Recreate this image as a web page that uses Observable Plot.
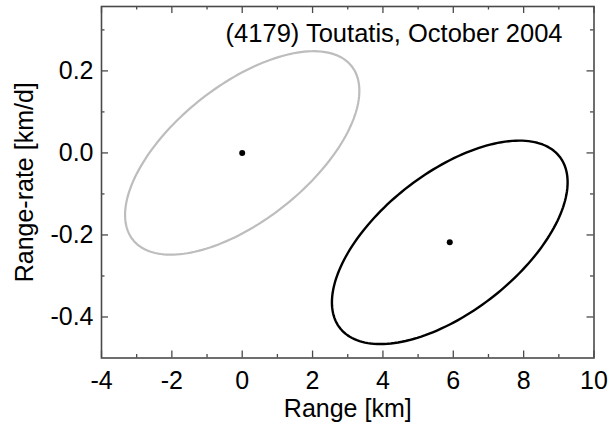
<!DOCTYPE html>
<html><head><meta charset="utf-8">
<script src="https://cdn.jsdelivr.net/npm/d3@7"></script>
<script src="https://cdn.jsdelivr.net/npm/@observablehq/plot@0.6"></script>
<style>html,body{margin:0;padding:0;background:#fff} svg{display:block}</style>
</head><body><div id="chart"></div>
<script>
// Data
const seriesNames = ["Nominal", "Offset"];
const centerRange = [0, 5.9];        // km
const centerRate = [0, -0.218];      // km/d
const halfRange = [3.33, 3.35];      // km, horizontal half-extent of ellipse
const halfRate = [0.248, 0.248];     // km/d, vertical half-extent of ellipse
const tilt = [0.61, 0.59];           // rate offset at range extreme / halfRate
const xMajor = [-4, -2, 0, 2, 4, 6, 8, 10];
const xMinor = [-3, -1, 1, 3, 5, 7, 9];
const yMajor = [-0.4, -0.2, 0.0, 0.2];
const yMinor = [-0.3, -0.1, 0.1, 0.3];
const xTickLabels = ["-4", "-2", "0", "2", "4", "6", "8", "10"];
const yTickLabels = ["-0.4", "-0.2", "0.0", "0.2"];
const title = "(4179) Toutatis, October 2004";
const xLabel = "Range [km]";
const yLabel = "Range-rate [km/d]";

// layout / style
const W = 610, H = 424;
const mL = 101, mR = 16.5, mT = 6, mB = 66.5;
const innerW = W - mL - mR, innerH = H - mT - mB;
const frameColor = "#4a4a4a";
const seriesColors = ["#bdbdbd", "#000000"];
const seriesWidths = [2.2, 2.4];
const major = 7, minor = 3.5;
const font = "'Liberation Sans', Arial, Helvetica, sans-serif";
const fs = 25;

// ellipse outlines built from the read parameters
const ellipses = seriesNames.map((name, i) => {
  const phi = Math.asin(tilt[i]);
  return d3.range(0, 360, 2).map(deg => {
    const t = deg * Math.PI / 180;
    return {series: name,
            range: centerRange[i] + halfRange[i] * Math.cos(t),
            rate: centerRate[i] + halfRate[i] * Math.sin(t + phi)};
  });
});
const centers = seriesNames.map((name, i) => ({series: name, range: centerRange[i], rate: centerRate[i]}));

const xFmt = d => xTickLabels[xMajor.indexOf(d)];
const yFmt = d => yTickLabels[yMajor.indexOf(d)];

const chart = Plot.plot({
  width: W, height: H,
  marginLeft: mL, marginRight: mR, marginTop: mT, marginBottom: mB,
  style: {fontFamily: font, fontSize: fs + "px", color: "#000", background: "#fff"},
  x: {domain: [-4, 10]},
  y: {domain: [-0.5, 0.357]},
  marks: [
    ...ellipses.map((pts, i) => Plot.line(pts, {x: "range", y: "rate", curve: "linear-closed",
        stroke: seriesColors[i], strokeWidth: seriesWidths[i]})),
    Plot.dot(centers, {x: "range", y: "rate", r: 3, fill: "#000", stroke: null}),
    // inward ticks on all four sides
    Plot.tickX(xMajor, {x: d => d, stroke: frameColor, strokeWidth: 1.3, insetTop: innerH - major}),
    Plot.tickX(xMinor, {x: d => d, stroke: frameColor, strokeWidth: 1.3, insetTop: innerH - minor}),
    Plot.tickX(xMajor, {x: d => d, stroke: frameColor, strokeWidth: 1.3, insetBottom: innerH - major}),
    Plot.tickX(xMinor, {x: d => d, stroke: frameColor, strokeWidth: 1.3, insetBottom: innerH - minor}),
    Plot.tickY(yMajor, {y: d => d, stroke: frameColor, strokeWidth: 1.3, insetRight: innerW - major}),
    Plot.tickY(yMinor, {y: d => d, stroke: frameColor, strokeWidth: 1.3, insetRight: innerW - minor}),
    Plot.tickY(yMajor, {y: d => d, stroke: frameColor, strokeWidth: 1.3, insetLeft: innerW - major}),
    Plot.tickY(yMinor, {y: d => d, stroke: frameColor, strokeWidth: 1.3, insetLeft: innerW - minor}),
    Plot.frame({stroke: frameColor, strokeWidth: 1.6}),
    Plot.axisX(xMajor, {anchor: "bottom", tickSize: 0, tickPadding: 13, tickFormat: xFmt, label: null, fontSize: fs}),
    Plot.axisY(yMajor, {anchor: "left", tickSize: 0, tickPadding: 8, tickFormat: yFmt, label: null, fontSize: fs}),
    Plot.text([xLabel], {text: d => d, frameAnchor: "bottom", lineAnchor: "bottom", dy: 59, fontSize: fs, fill: "#000"}),
    Plot.text([yLabel], {text: d => d, frameAnchor: "left", rotate: -90, lineAnchor: "bottom", textAnchor: "middle", dx: -69, fontSize: fs, fill: "#000"}),
    Plot.text([title], {text: d => d, frameAnchor: "top-right", textAnchor: "end", lineAnchor: "bottom", dx: -31.5, dy: 35.5, fontSize: 25.5, fill: "#000"})
  ]
});
document.getElementById("chart").append(chart);
</script>
</body></html>
